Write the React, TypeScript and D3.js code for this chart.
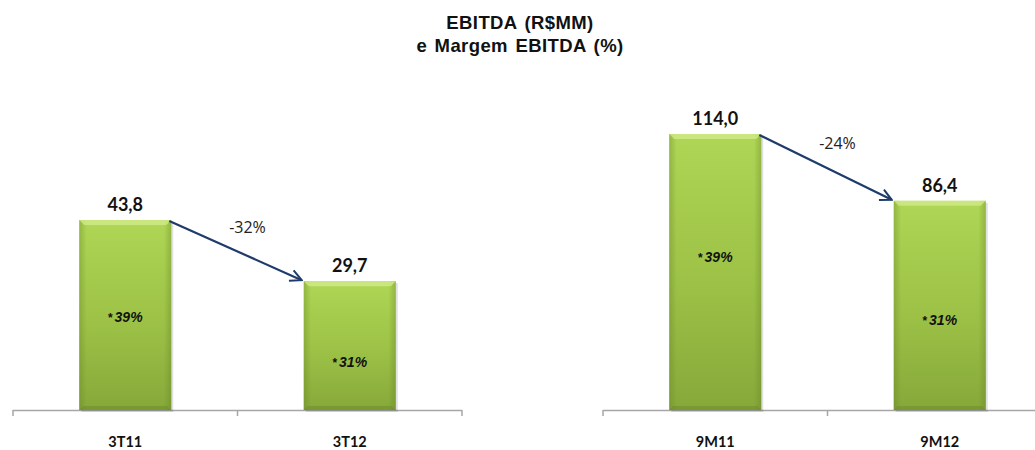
import { useEffect, useRef } from 'react';
import * as d3 from 'd3';

const W = 1035;
const H = 450;

// panel 1: quarter, panel 2: nine months
const quarterCats = ['3T11', '3T12'];
const quarterEbitda = [43.8, 29.7];
const quarterMargin = ['39%', '31%'];
const quarterChange = '-32%';

const ytdCats = ['9M11', '9M12'];
const ytdEbitda = [114.0, 86.4];
const ytdMargin = ['39%', '31%'];
const ytdChange = '-24%';

const titleLines = ['EBITDA (R$MM)', 'e Margem EBITDA (%)'];

const fmt = (v: number) => v.toFixed(1).replace('.', ',');

interface PanelSpec {
  cats: string[];
  values: number[];
  margins: string[];
  change: string;
  x0: number;
  x1: number;
  yMax: number;
  top: number; // pixel y of yMax
  marginAt: number[]; // where the margin label sits, share of bar height
}

const BASE = 410;

const panels: PanelSpec[] = [
  {
    cats: quarterCats, values: quarterEbitda, margins: quarterMargin, change: quarterChange,
    x0: 13, x1: 462, yMax: 43.8, top: 220, marginAt: [0.49, 0.37],
  },
  {
    cats: ytdCats, values: ytdEbitda, margins: ytdMargin, change: ytdChange,
    x0: 603, x1: 1052, yMax: 114, top: 134, marginAt: [0.555, 0.43],
  },
];

export default function App() {
  const svgRef = useRef<SVGSVGElement>(null);

  useEffect(() => {
    if (!svgRef.current) return;
    const svg = d3.select(svgRef.current);
    svg.selectAll('*').remove();

    const defs = svg.append('defs');
    const vg = defs.append('linearGradient').attr('id', 'barV')
      .attr('x1', 0).attr('y1', 0).attr('x2', 0).attr('y2', 1);
    vg.append('stop').attr('offset', '0%').attr('stop-color', '#afd655');
    vg.append('stop').attr('offset', '55%').attr('stop-color', '#9cc146');
    vg.append('stop').attr('offset', '100%').attr('stop-color', '#86a83a');

    const hg = defs.append('linearGradient').attr('id', 'barH')
      .attr('x1', 0).attr('y1', 0).attr('x2', 1).attr('y2', 0);
    hg.append('stop').attr('offset', '0%').attr('stop-color', '#5e7d22').attr('stop-opacity', 0.35);
    hg.append('stop').attr('offset', '8%').attr('stop-color', '#5e7d22').attr('stop-opacity', 0);
    hg.append('stop').attr('offset', '92%').attr('stop-color', '#5e7d22').attr('stop-opacity', 0);
    hg.append('stop').attr('offset', '100%').attr('stop-color', '#5e7d22').attr('stop-opacity', 0.35);

    defs.append('marker').attr('id', 'arrowHead')
      .attr('viewBox', '0 0 10 10').attr('refX', 9).attr('refY', 5)
      .attr('markerWidth', 6.5).attr('markerHeight', 6.5)
      .attr('markerUnits', 'strokeWidth').attr('orient', 'auto')
      .append('path').attr('d', 'M1,1 L9,5 L1,9')
      .attr('fill', 'none').attr('stroke', '#1f3b6b').attr('stroke-width', 1.4);

    const title = svg.append('text')
      .attr('x', 520).attr('y', 29)
      .attr('text-anchor', 'middle')
      .attr('font-family', '"Liberation Sans", Arial, sans-serif')
      .attr('font-weight', 700).attr('font-size', 18.5)
      .attr('letter-spacing', 0.4).attr('word-spacing', 2).attr('fill', '#111');
    titleLines.forEach((t, i) => {
      title.append('tspan').attr('x', 520).attr('dy', i === 0 ? 0 : 23).text(t);
    });

    panels.forEach(p => {
      const g = svg.append('g');
      const x = d3.scaleBand<string>().domain(p.cats).range([p.x0, p.x1]).padding(0);
      const y = d3.scaleLinear().domain([0, p.yMax]).range([BASE, p.top]);
      const bw = x.step() * 0.41;
      const cx = (c: string) => (x(c) as number) + x.bandwidth() / 2;

      // axis
      const axis = g.append('g').attr('stroke', '#a6a6a6').attr('stroke-width', 1.5).attr('fill', 'none');
      axis.append('line').attr('x1', p.x0).attr('x2', p.x1).attr('y1', BASE + 0.5).attr('y2', BASE + 0.5);
      const ticks = [...p.cats.map(c => x(c) as number), p.x1];
      axis.selectAll('line.tick').data(ticks).join('line').attr('class', 'tick')
        .attr('x1', d => d).attr('x2', d => d).attr('y1', BASE).attr('y2', BASE + 6);

      // bars
      const bars = g.append('g').selectAll('g').data(p.values).join('g');
      bars.append('rect')
        .attr('x', (_, i) => cx(p.cats[i]) - bw / 2 + 2).attr('y', d => y(d) + 2)
        .attr('width', bw).attr('height', d => BASE - y(d))
        .attr('fill', '#000').attr('opacity', 0.12);
      bars.append('rect')
        .attr('x', (_, i) => cx(p.cats[i]) - bw / 2).attr('y', d => y(d))
        .attr('width', bw).attr('height', d => BASE - y(d))
        .attr('fill', 'url(#barV)');
      bars.append('rect')
        .attr('x', (_, i) => cx(p.cats[i]) - bw / 2).attr('y', d => y(d))
        .attr('width', bw).attr('height', d => BASE - y(d))
        .attr('fill', 'url(#barH)');
      // bevel: light top strip, darker bottom strip
      bars.append('path')
        .attr('d', (d, i) => {
          const l = cx(p.cats[i]) - bw / 2, r = l + bw, t = y(d), b = 5;
          return `M${l},${t}L${r},${t}L${r - b},${t + b}L${l + b},${t + b}Z`;
        })
        .attr('fill', '#d2ec8c').attr('opacity', 0.75);
      bars.append('path')
        .attr('d', (d, i) => {
          const l = cx(p.cats[i]) - bw / 2, r = l + bw, bt = BASE, b = 4;
          return `M${l},${bt}L${r},${bt}L${r - b},${bt - b}L${l + b},${bt - b}Z`;
        })
        .attr('fill', '#6b8a2a').attr('opacity', 0.5);

      // value labels
      g.append('g').selectAll('text').data(p.values).join('text')
        .attr('x', (_, i) => cx(p.cats[i])).attr('y', d => y(d) - 9)
        .attr('text-anchor', 'middle')
        .attr('font-family', 'Lato, "Liberation Sans", sans-serif')
        .attr('font-weight', 700).attr('font-size', 18).attr('fill', '#111')
        .text(d => fmt(d));

      // margin labels
      const ml = g.append('g').selectAll('text').data(p.margins).join('text')
        .attr('x', (_, i) => cx(p.cats[i])).attr('y', (_, i) => y(p.values[i] * p.marginAt[i]) + 5)
        .attr('text-anchor', 'middle')
        .attr('font-family', '"Liberation Sans", Arial, sans-serif')
        .attr('font-weight', 700).attr('font-style', 'italic').attr('font-size', 14).attr('fill', '#111');
      ml.append('tspan').attr('font-style', 'normal').attr('font-size', 12).text('*');
      ml.append('tspan').attr('dx', 2).text(d => d);

      // category labels
      g.append('g').selectAll('text').data(p.cats).join('text')
        .attr('x', c => cx(c)).attr('y', 447)
        .attr('text-anchor', 'middle')
        .attr('font-family', 'Lato, "Liberation Sans", sans-serif')
        .attr('font-weight', 700).attr('font-size', 14.5).attr('fill', '#111')
        .text(c => c);

      // change arrow
      const ax1 = cx(p.cats[0]) + bw / 2 - 2;
      const ay1 = y(p.values[0]) + 1;
      const ax2 = cx(p.cats[1]) - bw / 2 - 2;
      const ay2 = y(p.values[1]) - 1;
      g.append('line')
        .attr('x1', ax1).attr('y1', ay1).attr('x2', ax2).attr('y2', ay2)
        .attr('stroke', '#1f3b6b').attr('stroke-width', 2.2)
        .attr('marker-end', 'url(#arrowHead)');
      g.append('text')
        .attr('x', (ax1 + ax2) / 2 + 12).attr('y', (ay1 + ay2) / 2 - 18)
        .attr('text-anchor', 'middle')
        .attr('font-family', '"Open Sans", "Liberation Sans", sans-serif')
        .attr('font-size', 16).attr('fill', '#222')
        .text(p.change);
    });
  }, []);

  return (
    <svg
      ref={svgRef}
      width={W}
      height={H}
      style={{ position: 'absolute', left: 0, top: 0, background: '#fff' }}
    />
  );
}
